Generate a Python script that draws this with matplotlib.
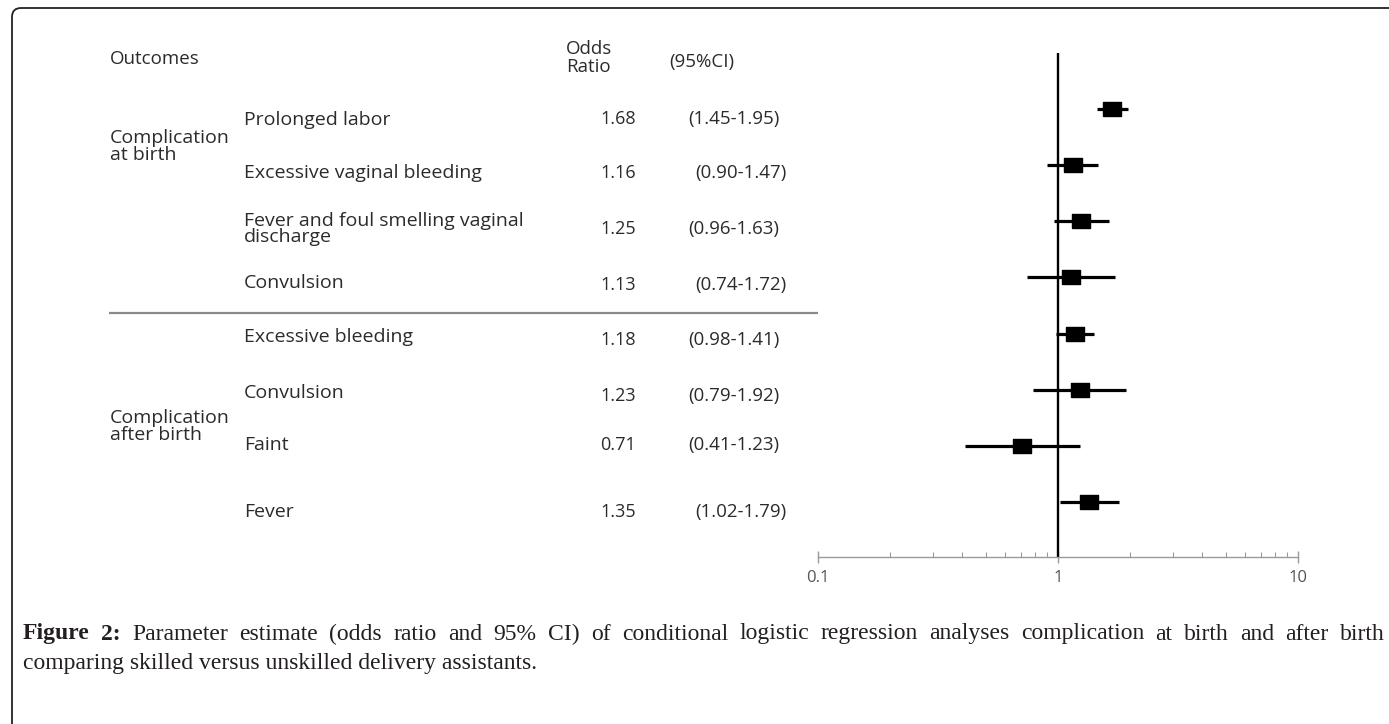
import numpy as np
import matplotlib
matplotlib.use("Agg")
import matplotlib.pyplot as plt
from matplotlib.patches import FancyBboxPatch
from matplotlib.path import Path

# data
outcomes = ["Prolonged labor", "Excessive vaginal bleeding",
            "Fever and foul smelling vaginal\ndischarge", "Convulsion",
            "Excessive bleeding", "Convulsion", "Faint", "Fever"]
odds = [1.68, 1.16, 1.25, 1.13, 1.18, 1.23, 0.71, 1.35]
ci_low = [1.45, 0.90, 0.96, 0.74, 0.98, 0.79, 0.41, 1.02]
ci_high = [1.95, 1.47, 1.63, 1.72, 1.41, 1.92, 1.23, 1.79]
groups = ["Complication\nat birth", "Complication\nafter birth"]
xticks = [0.1, 1, 10]
xticklabels = ["0.1", "1", "10"]
caption_bold = "Figure 2:"
caption_line1 = ("Parameter estimate (odds ratio and 95% CI) of conditional logistic "
                 "regression analyses complication at birth and after birth")
caption_line2 = "comparing skilled versus unskilled delivery assistants."

# layout (pixels, top-left origin) for the table text
W, H = 1389, 724
label_y = [120, 173, 229, 283, 337, 393, 445, 512]
num_y = [119, 173, 229, 285, 340, 396, 445, 512]
ci_x = [688, 695, 688, 695, 688, 688, 688, 695]
group_y = [146.5, 426.5]

tfont = "Open Sans"
lsize = 14      # outcome / group labels
nsize = 13      # odds ratios
csz = 13.5      # intervals and headers
tcol = "#2b2b2b"

fig = plt.figure(figsize=(W / 100, H / 100), dpi=100)

# overlay in pixel coordinates for text, rule and frame
bg = fig.add_axes([0, 0, 1, 1])
bg.set_xlim(0, W)
bg.set_ylim(H, 0)
bg.axis("off")

frame = FancyBboxPatch((12, 8), W + 40, H + 40,
                       boxstyle="round,pad=0,rounding_size=9",
                       fill=False, ec="#222222", lw=1.3)
bg.add_patch(frame)

bg.text(110, 59, "Outcomes", fontsize=csz, family=tfont, color=tcol, va="center")
bg.text(566, 58, "Odds\nRatio", fontsize=csz, family=tfont, color=tcol,
        va="center", linespacing=0.95)
bg.text(669, 62, "(95%CI)", fontsize=csz, family=tfont, color=tcol, va="center")

for g, gy in zip(groups, group_y):
    bg.text(110, gy, g, fontsize=lsize, family=tfont, color=tcol,
            va="center", linespacing=0.9)

for i in range(len(outcomes)):
    bg.text(244, label_y[i], outcomes[i], fontsize=lsize, family=tfont,
            color=tcol, va="center", linespacing=0.9)
    bg.text(600, num_y[i], "%.2f" % odds[i], fontsize=nsize, family=tfont,
            color=tcol, va="center")
    bg.text(ci_x[i], num_y[i], "(%.2f-%.2f)" % (ci_low[i], ci_high[i]),
            fontsize=csz, family=tfont, color=tcol, va="center")

bg.plot([109, 818], [313, 313], color="#8a8a8a", lw=1.6, solid_capstyle="butt")

# forest plot
ax = fig.add_axes([818 / W, (H - 557) / H, 480 / W, 504 / H])
ax.patch.set_alpha(0)
ax.set_xscale("log")
ax.set_xlim(0.1, 10)
rows = np.arange(len(odds))
ax.set_ylim(7.98, -1.0)

rect = Path([(-0.5, -0.38), (0.5, -0.38), (0.5, 0.38), (-0.5, 0.38), (-0.5, -0.38)])
ax.hlines(rows, ci_low, ci_high, color="black", lw=2.3)
ax.plot(odds, rows, ls="none", marker=rect, ms=12.5, color="black", mec="black")
ax.axvline(1, color="black", lw=1.7)

for s in ["left", "right", "top"]:
    ax.spines[s].set_visible(False)
ax.spines["bottom"].set_color("#9a9a9a")
ax.spines["bottom"].set_linewidth(1.0)
ax.set_yticks([])
ax.set_xticks(xticks)
ax.set_xticklabels(xticklabels, family="Open Sans", fontsize=12, color="#555555")
ax.tick_params(axis="x", which="major", direction="inout", length=8, width=1,
               color="#9a9a9a", pad=5)
ax.tick_params(axis="x", which="minor", direction="in", length=3.5, width=0.8,
               color="#9a9a9a")

# caption, first line justified across the frame width
fig.canvas.draw()
r = fig.canvas.get_renderer()
cfont = "Liberation Serif"
capsize = 17
words = [(w, "bold") for w in caption_bold.split()] + \
        [(w, "normal") for w in caption_line1.split()]
arts = [bg.text(0, 634, w, fontsize=capsize, family=cfont, fontweight=wt,
                color="#231f20", va="center") for w, wt in words]
widths = [a.get_window_extent(r).width for a in arts]
x0, x1 = 23, 1385
gap = (x1 - x0 - sum(widths)) / (len(arts) - 1)
x = x0
for a, w in zip(arts, widths):
    a.set_x(x)
    x += w + gap
bg.text(x0, 663, caption_line2, fontsize=capsize, family=cfont,
        color="#231f20", va="center")

fig.savefig("out.png", dpi=100)
